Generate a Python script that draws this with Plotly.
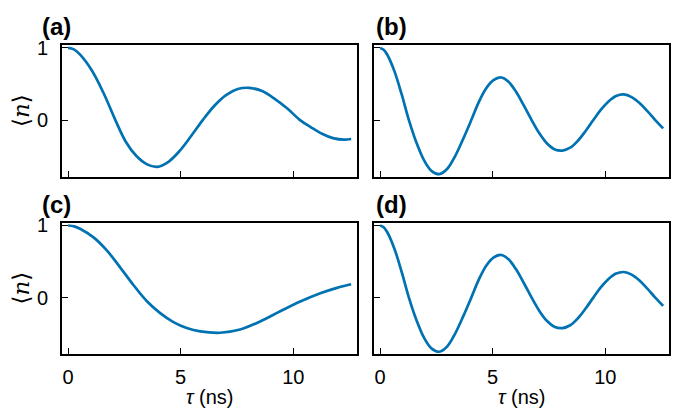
import plotly.graph_objects as go

# ---- data ----
tau_a = [0, 0.26, 0.525, 1.05, 1.575, 2.1, 2.5625, 3.025, 3.4875, 3.95, 4.4575, 4.965, 5.4725,
         5.98, 6.4975, 7.015, 7.5325, 8.05, 8.6125, 9.175, 9.7375, 10.3, 10.7875, 11.275,
         11.7625, 12.25, 12.57]
n_a = [1.0, 0.98, 0.91, 0.69, 0.375, 0.0, -0.30, -0.495, -0.61, -0.648, -0.578, -0.424, -0.218,
       0.0, 0.199, 0.346, 0.43, 0.447, 0.402, 0.295, 0.16, 0.0, -0.10, -0.19, -0.25, -0.272, -0.262]

tau_b = [0, 0.16, 0.32, 0.64, 0.96, 1.28, 1.6175, 1.955, 2.2925, 2.63, 2.985, 3.34, 3.695, 4.05,
         4.3775, 4.705, 5.0325, 5.36, 5.7025, 6.045, 6.3875, 6.73, 7.0725, 7.415, 7.7575,
         8.1, 8.4425, 8.785, 9.1275, 9.47, 9.8075, 10.145, 10.4825, 10.82, 11.17, 11.52,
         11.87, 12.22, 12.57]
n_b = [1.0, 0.976, 0.906, 0.675, 0.355, 0.0, -0.314, -0.559, -0.707, -0.75, -0.675, -0.495, -0.257,
       0.0, 0.245, 0.438, 0.554, 0.592, 0.531, 0.389, 0.199, 0.0, -0.184, -0.325, -0.407,
       -0.423, -0.383, -0.286, -0.151, 0.0, 0.144, 0.258, 0.333, 0.355, 0.319, 0.237, 0.124,
       0.0, -0.115]

tau_c = [0, 0.27, 0.53, 1.13, 1.72, 2.31, 2.9, 3.5, 4.09, 4.68, 5.27, 5.87, 6.76, 7.64, 8.53,
         9.42, 10.31, 11.2, 11.94, 12.57]
n_c = [1.0, 0.988, 0.955, 0.835, 0.655, 0.42, 0.175, -0.05, -0.215, -0.34, -0.422, -0.468, -0.487,
       -0.443, -0.33, -0.19, -0.055, 0.06, 0.135, 0.185]

tau_d = list(tau_b)
n_d = list(n_b)

panel_labels = ["(a)", "(b)", "(c)", "(d)"]
x_ticks = [0, 5, 10]
y_ticks = [0, 1]

W, H = 677, 418
LINE = "#0072B2"
FONT = "Liberation Sans, Arial, sans-serif"

fig = go.Figure()
series = [(tau_a, n_a), (tau_b, n_b), (tau_c, n_c), (tau_d, n_d)]
for i, (t, n) in enumerate(series):
    sfx = "" if i == 0 else str(i + 1)
    fig.add_trace(go.Scatter(x=t, y=n, mode="lines",
                             line=dict(color=LINE, width=2.7, shape="spline", smoothing=1.0),
                             xaxis="x" + sfx, yaxis="y" + sfx, showlegend=False, hoverinfo="skip"))

xdom = [[62 / W, 357 / W], [374 / W, 669 / W]]
ydom = [[1 - 172 / H, 1 - 38 / H], [1 - 353 / H, 1 - 219 / H]]

layout = dict(width=W, height=H, margin=dict(l=0, r=0, t=0, b=0),
              paper_bgcolor="white", plot_bgcolor="white",
              font=dict(family=FONT, size=20, color="black"))
for i in range(4):
    sfx = "" if i == 0 else str(i + 1)
    col, row = i % 2, i // 2
    layout["xaxis" + sfx] = dict(domain=xdom[col], anchor="y" + sfx, range=[-0.27, 12.83],
                                 tickvals=x_ticks, showticklabels=(row == 1),
                                 ticks="inside", ticklen=6, tickwidth=1.2, tickcolor="black",
                                 showline=True, linecolor="black", linewidth=1.6, mirror=True,
                                 showgrid=False, zeroline=False, ticklabelstandoff=4,
                                 tickfont=dict(size=20, family=FONT))
    layout["yaxis" + sfx] = dict(domain=ydom[row], anchor="x" + sfx, range=[-0.785, 1.037],
                                 tickvals=y_ticks, showticklabels=(col == 0),
                                 ticks="inside", ticklen=6, tickwidth=1.2, tickcolor="black",
                                 showline=True, linecolor="black", linewidth=1.6, mirror=True,
                                 showgrid=False, zeroline=False, ticklabelstandoff=8,
                                 tickfont=dict(size=20, family=FONT))

ann = []
lab_pos = [(40, 19), (374, 19), (40, 200), (374, 200)]
for lab, (px, py) in zip(panel_labels, lab_pos):
    ann.append(dict(text="<b>" + lab + "</b>", x=px / W, y=1 - py / H, xref="paper", yref="paper",
                    xanchor="left", yanchor="middle", showarrow=False,
                    font=dict(size=24, family=FONT)))
for py in [105, 286]:
    ann.append(dict(text="⟨<i>n</i>⟩", x=21 / W, y=1 - py / H, xref="paper", yref="paper",
                    xanchor="center", yanchor="middle", textangle=-90, showarrow=False,
                    font=dict(size=23, family="DejaVu Serif, serif")))
for px in [209.5, 521.5]:
    ann.append(dict(text="<i>τ</i> (ns)", x=px / W, y=1 - 397 / H, xref="paper", yref="paper",
                    xanchor="center", yanchor="middle", showarrow=False,
                    font=dict(size=20, family=FONT)))
layout["annotations"] = ann

fig.update_layout(**layout)
fig.write_html("out.html")
